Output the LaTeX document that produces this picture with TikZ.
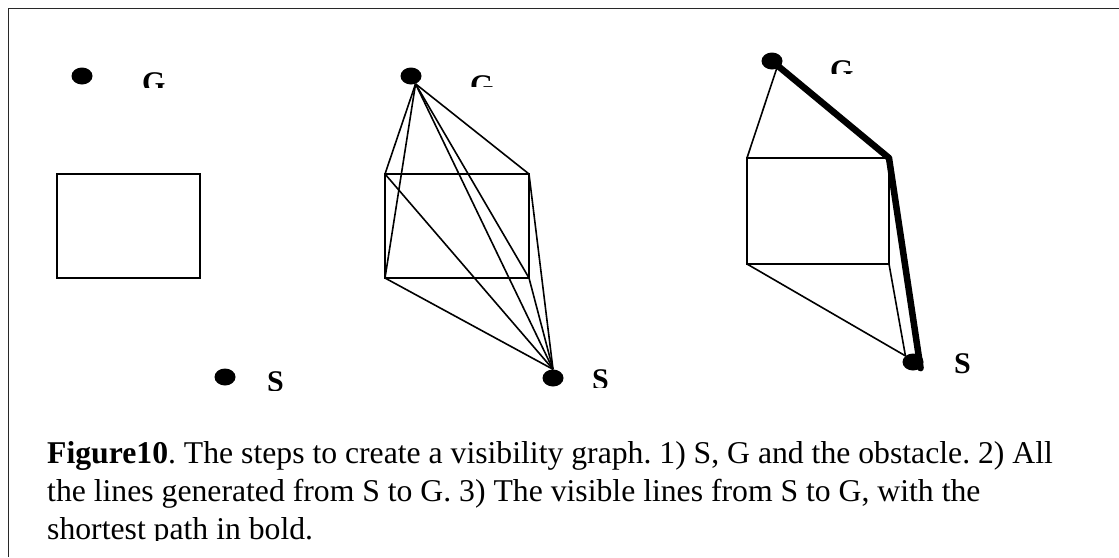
\documentclass[tikz,border=0pt]{standalone}
\usepackage{fontspec}
\setmainfont{Liberation Serif}
\usepackage{tikz}
\usetikzlibrary{shapes.geometric}
\definecolor{vgBlack}{RGB}{0,0,0}
\definecolor{vgFrame}{RGB}{40,40,40}
\frenchspacing

\begin{document}
\begin{tikzpicture}[x=1pt,y=-1pt,
  edge/.style={vgBlack, line width=1.6pt},
  boldpath/.style={vgBlack, line width=6.5pt, line cap=round, line join=round},
  dot/.style={ellipse, fill=vgBlack, minimum width=21pt, minimum height=17pt, inner sep=0pt},
  lbl/.style={anchor=base west, inner sep=0pt, font=\fontsize{30}{36}\selectfont\bfseries},
  captxt/.style={anchor=base west, inner sep=0pt, font=\fontsize{31.7}{38}\selectfont}]
\useasboundingbox (0,0) rectangle (1119,557);
\draw[vgFrame, line width=1.3pt] (8.5,557) -- (8.5,8.5) -- (1119,8.5);

% obstacle corners of the three panels
\foreach \p/\l/\t/\r/\b in {1/57/174/200/278,2/385/174/529/278,3/747/158/889/264}{
  \coordinate (tl\p) at (\l,\t);
  \coordinate (tr\p) at (\r,\t);
  \coordinate (bl\p) at (\l,\b);
  \coordinate (br\p) at (\r,\b);
  \draw[edge] (tl\p) rectangle (br\p);
}

\node[dot] (g1) at (82,76) {};
\node[dot] (s1) at (225,377) {};
\node[dot] (g2) at (411,76) {};
\node[dot] (s2) at (553,378) {};
\node[dot] (g3) at (772,61) {};
\node[dot] (s3) at (913,362) {};

% 2) all lines
\foreach \c in {tl2,bl2,tr2,br2}{
  \draw[edge] (g2.-60) -- (\c) -- (s2.north);
}
\draw[edge] (g2.-60) -- (s2.north);

% 3) visible lines and shortest path
\draw[edge] (g3.-60) -- (tl3);
\draw[edge] (bl3) -- (s3.north west);
\draw[edge] (br3) -- (s3.north west);
\draw[boldpath] (g3.center) -- (tr3) -- (s3.south east);

\foreach \nm/\t/\lx/\ly/\cut in {lg1/G/142/92/87,ls1/S/267/391/390,lg2/G/470/95/86,ls2/S/592/389/387,lg3/G/830/80/73,ls3/S/954/373/373}{
  \begin{scope}
    \clip (\lx-6,\ly-40) rectangle (\lx+40,\cut);
    \node[lbl] (\nm) at (\lx,\ly) {\t};
  \end{scope}
}

\begin{scope}
  \clip (20,420) rectangle (1110,540);
  \foreach \i/\y/\txt in {1/463/{\textbf{Figure10}. The steps to create a visibility graph. 1) S, G and the obstacle. 2) All},
      2/501/{the lines generated from S to G. 3) The visible lines from S to G, with the},
      3/539/{shortest path in bold.}}{
    \node[captxt] (cap\i) at (47,\y) {\txt};
  }
\end{scope}
\end{tikzpicture}
\end{document}
